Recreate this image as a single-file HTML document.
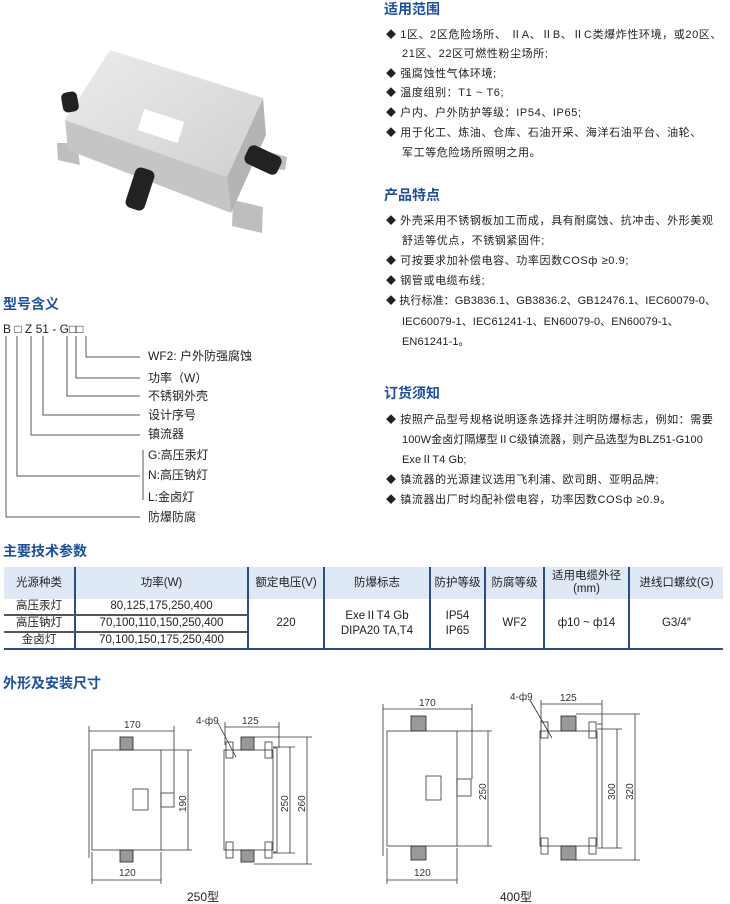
<!DOCTYPE html>
<html><head><meta charset="utf-8"><style>
*{margin:0;padding:0;box-sizing:border-box}
body{width:730px;height:904px;background:#fff;position:relative;overflow:hidden;font-family:"Liberation Sans","Noto Sans CJK SC",sans-serif;color:#222}
.h{position:absolute;font-size:14px;font-weight:bold;color:#1d4f9c;line-height:16px}
.l{position:absolute;font-size:11px;line-height:14px;white-space:nowrap;color:#222;letter-spacing:0.6px}
.z{letter-spacing:0.1px}
.m{position:absolute;font-size:12px;line-height:14px;white-space:nowrap;color:#222}
.d{font-size:10px}
table{position:absolute;left:4px;top:567px;width:719px;border-collapse:collapse;font-size:11.5px;text-align:center}
th{background:#dfe9f5;font-weight:normal;height:32px;border-left:2px solid #2a4d8a;line-height:13px}
td{border-left:2px solid #2a4d8a;height:16px;line-height:15px}
tr.r td.s{border-bottom:2px solid #555}
th:first-child,td:first-child{border-left:none}
</style></head><body>

<svg style="position:absolute;left:0;top:0" width="730" height="904">
<defs><linearGradient id="g" x1="0" y1="0" x2="1" y2="1"><stop offset="0" stop-color="#ececeb"/><stop offset="1" stop-color="#cfd1d0"/></linearGradient></defs>
<polygon points="57,143 77,143 80,165 58,160" fill="#bdbebd"/>
<polygon points="233,200 263,207 262,233 232,226" fill="#bdbebd"/>
<polygon points="262,150 287,157 285,170 262,168" fill="#bdbebd"/>
<polygon points="65,120 227,177 231,213 68,150" fill="#c4c6c5"/>
<polygon points="263,98 266,135 231,213 227,177" fill="#b3b5b4"/>
<polygon points="110,50 263,98 227,177 65,120" fill="url(#g)"/>
<rect x="140" y="115" width="42" height="22" fill="#fff" transform="rotate(18 161 126)"/>
<rect x="62" y="92" width="16" height="20" rx="5" fill="#222" transform="rotate(-10 70 102)"/>
<rect x="245" y="150" width="36" height="20" rx="6" fill="#222" transform="rotate(25 263 160)"/>
<rect x="130" y="168" width="20" height="42" rx="6" fill="#222" transform="rotate(18 140 189)"/>
<g stroke="#555" stroke-width="1" fill="none">
<path d="M6,336V517H140M17,336V476H140M31,336V435H140M43,336V415H140M67,336V396H140M76,336V378H140M86,336V357H140M143,450V500"/>
</g>
<g fill="#999" stroke="#222" stroke-width="0.8">
<rect x="120" y="737" width="13" height="13"/><rect x="120" y="850" width="13" height="12"/>
<rect x="241" y="737" width="13" height="13"/><rect x="241" y="850" width="13" height="12"/>
<rect x="411" y="716" width="15" height="15"/><rect x="411" y="846" width="15" height="14"/>
<rect x="561" y="716" width="15" height="15"/><rect x="561" y="846" width="15" height="14"/>
</g>
<g stroke="#333" stroke-width="0.8" fill="none">
<rect x="92" y="750" width="69" height="100"/>
<rect x="133" y="789" width="15" height="21"/>
<rect x="161" y="793" width="13" height="14"/>
<path d="M89,742V858M89,731H174M89,726V745M174,726V793M161,750H192M161,850H192M188,750V850M92,880H161M92,852V884M161,852V884"/>
<rect x="224" y="750" width="49" height="100"/>
<rect x="226" y="742" width="7" height="16"/><rect x="265" y="742" width="7" height="16"/>
<rect x="226" y="842" width="7" height="16"/><rect x="265" y="842" width="7" height="16"/>
<path d="M273,748H277V852H273M225,722V745M279,722V748M225,727H279M273,747H295M273,853H295M290,747V853M254,737H312M254,864H312M307,737V864M218,723L236,757"/>
<rect x="387" y="731" width="70" height="115"/>
<rect x="426" y="776" width="15" height="24"/>
<rect x="457" y="779" width="14" height="17"/>
<path d="M383,721V856M383,709H472M383,704V726M472,704V779M457,731H492M457,846H492M488,731V846M387,880H457M387,848V884M457,848V884"/>
<rect x="540" y="731" width="57" height="115"/>
<rect x="541" y="722" width="7" height="16"/><rect x="589" y="722" width="7" height="16"/>
<rect x="541" y="838" width="7" height="16"/><rect x="589" y="838" width="7" height="16"/>
<path d="M597,724H602V848H597M541,700V722M602,700V724M541,704H602M597,729H622M597,848H622M617,729V848M576,714H640M576,860H640M635,714V860M530,700L552,738"/>
</g>
<g font-family="Liberation Sans,sans-serif" font-size="10" fill="#333">
<text x="124" y="728">170</text><text x="242" y="724">125</text><text x="196" y="724">4-ф9</text>
<text x="119" y="876">120</text>
<text transform="translate(186,812) rotate(-90)">190</text>
<text transform="translate(288,812) rotate(-90)">250</text>
<text transform="translate(305,812) rotate(-90)">260</text>
<text x="419" y="706">170</text><text x="560" y="701">125</text><text x="510" y="700">4-ф9</text>
<text x="414" y="876">120</text>
<text transform="translate(486,800) rotate(-90)">250</text>
<text transform="translate(615,800) rotate(-90)">300</text>
<text transform="translate(633,800) rotate(-90)">320</text>
</g>
</svg>

<div class="m" style="left:187px;top:890px">250型</div>
<div class="m" style="left:500px;top:890px">400型</div>

<div class="h" style="left:384px;top:1px">适用范围</div>
<div class="l" style="left:386px;top:28px"><span class="d">◆</span> 1区、2区危险场所、 ⅡA、ⅡB、ⅡC类爆炸性环境，或20区、</div>
<div class="l" style="left:402px;top:47px">21区、22区可燃性粉尘场所;</div>
<div class="l" style="left:386px;top:67px"><span class="d">◆</span> 强腐蚀性气体环境;</div>
<div class="l" style="left:386px;top:86px"><span class="d">◆</span> 温度组别：T1 ~ T6;</div>
<div class="l" style="left:386px;top:106px"><span class="d">◆</span> 户内、户外防护等级：IP54、IP65;</div>
<div class="l" style="left:386px;top:126px"><span class="d">◆</span> 用于化工、炼油、仓库、石油开采、海洋石油平台、油轮、</div>
<div class="l" style="left:402px;top:146px">军工等危险场所照明之用。</div>

<div class="h" style="left:384px;top:187px">产品特点</div>
<div class="l" style="left:386px;top:214px"><span class="d">◆</span> 外壳采用不锈钢板加工而成，具有耐腐蚀、抗冲击、外形美观</div>
<div class="l" style="left:402px;top:234px">舒适等优点，不锈钢紧固件;</div>
<div class="l" style="left:386px;top:254px"><span class="d">◆</span> 可按要求加补偿电容、功率因数COSф ≥0.9;</div>
<div class="l" style="left:386px;top:274px"><span class="d">◆</span> 钢管或电缆布线;</div>
<div class="l z" style="left:386px;top:294px"><span class="d">◆</span> 执行标准：GB3836.1、GB3836.2、GB12476.1、IEC60079-0、</div>
<div class="l z" style="left:402px;top:315px">IEC60079-1、IEC61241-1、EN60079-0、EN60079-1、</div>
<div class="l z" style="left:402px;top:335px">EN61241-1。</div>

<div class="h" style="left:384px;top:385px">订货须知</div>
<div class="l" style="left:386px;top:413px"><span class="d">◆</span> 按照产品型号规格说明逐条选择并注明防爆标志，例如：需要</div>
<div class="l z" style="left:402px;top:433px">100W金卤灯隔爆型ⅡC级镇流器，则产品选型为BLZ51-G100</div>
<div class="l z" style="left:402px;top:453px">ExeⅡT4 Gb;</div>
<div class="l" style="left:386px;top:473px"><span class="d">◆</span> 镇流器的光源建议选用飞利浦、欧司朗、亚明品牌;</div>
<div class="l" style="left:386px;top:493px"><span class="d">◆</span> 镇流器出厂时均配补偿电容，功率因数COSф ≥0.9。</div>

<div class="h" style="left:3px;top:296px">型号含义</div>
<div class="m" style="left:3px;top:322px">B □ Z 51 - G□□</div>
<div class="m" style="left:148px;top:349px">WF2:  户外防强腐蚀</div>
<div class="m" style="left:148px;top:371px">功率（W）</div>
<div class="m" style="left:148px;top:389px">不锈钢外壳</div>
<div class="m" style="left:148px;top:408px">设计序号</div>
<div class="m" style="left:148px;top:427px">镇流器</div>
<div class="m" style="left:148px;top:448px">G:高压汞灯</div>
<div class="m" style="left:148px;top:468px">N:高压钠灯</div>
<div class="m" style="left:148px;top:490px">L:金卤灯</div>
<div class="m" style="left:148px;top:510px">防爆防腐</div>

<div class="h" style="left:3px;top:543px">主要技术参数</div>
<table>
<tr><th style="width:71px">光源种类</th><th style="width:173px">功率(W)</th><th style="width:76px">额定电压(V)</th><th style="width:106px">防爆标志</th><th style="width:55px">防护等级</th><th style="width:59px">防腐等级</th><th style="width:85px">适用电缆外径<br>(mm)</th><th>进线口螺纹(G)</th></tr>
<tr class="r"><td class="s">高压汞灯</td><td class="s">80,125,175,250,400</td><td rowspan="3">220</td><td rowspan="3">ExeⅡT4 Gb<br>DIPA20 TA,T4</td><td rowspan="3">IP54<br>IP65</td><td rowspan="3">WF2</td><td rowspan="3">ф10 ~ ф14</td><td rowspan="3">G3/4″</td></tr>
<tr class="r"><td class="s">高压钠灯</td><td class="s">70,100,110,150,250,400</td></tr>
<tr><td>金卤灯</td><td>70,100,150,175,250,400</td></tr>
</table>
<div style="position:absolute;left:4px;top:648px;width:719px;height:2px;background:#2a4d8a"></div>

<div class="h" style="left:3px;top:675px">外形及安装尺寸</div>
</body></html>
